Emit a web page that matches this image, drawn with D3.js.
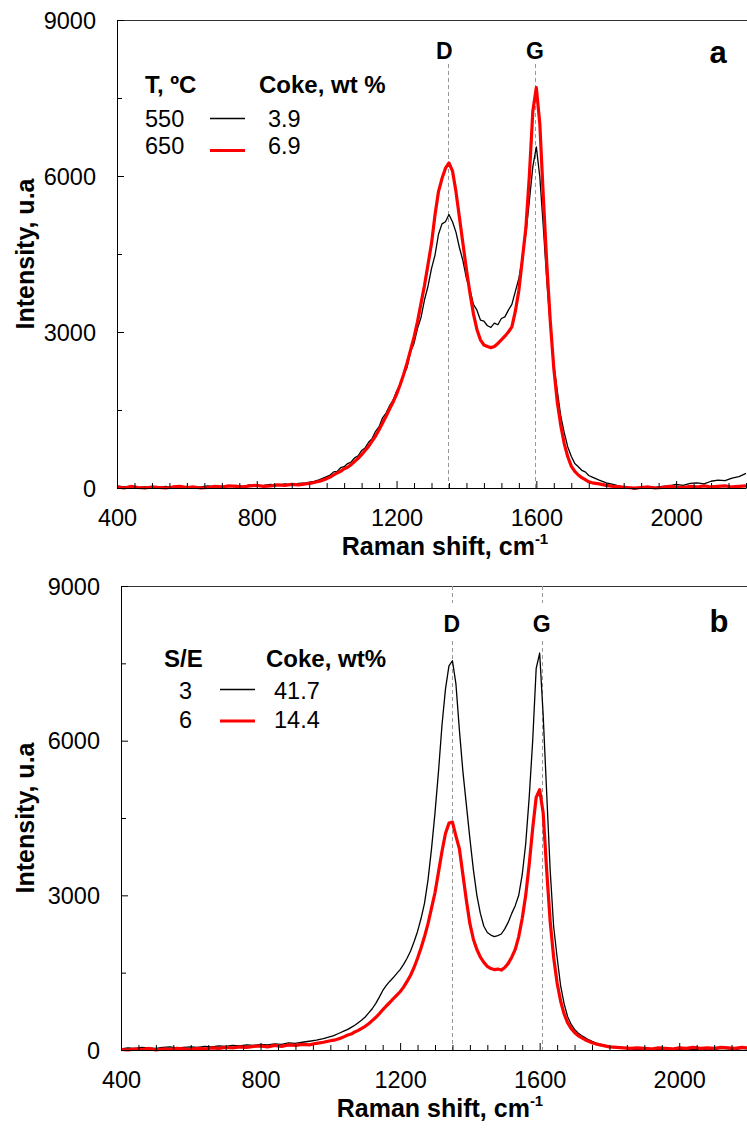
<!DOCTYPE html>
<html>
<head>
<meta charset="utf-8">
<script src="https://cdn.jsdelivr.net/npm/d3@7/dist/d3.min.js"></script>
<style>
  body { margin: 0; background: #fff; }
  svg { display: block; }
  text { font-family: "Liberation Sans", Arial, Helvetica, sans-serif; fill: #000; }
</style>
</head>
<body>
<svg id="chart" width="747" height="1137"></svg>
<script>
// Raman shift sampling (cm-1)
const shift = [
  400, 420, 440, 460, 480, 500, 520, 540, 560, 580, 600, 620, 640, 660, 680, 700,
  720, 740, 760, 780, 800, 820, 840, 860, 880, 900, 920, 940, 960, 980, 1000,
  1010, 1020, 1030, 1040, 1050, 1060, 1070, 1080, 1090, 1100,
  1110, 1120, 1130, 1140, 1150, 1160, 1170, 1180, 1190, 1200,
  1210, 1220, 1230, 1240, 1250, 1260, 1270, 1280, 1290, 1300,
  1310, 1320, 1330, 1340, 1350, 1360, 1370, 1380, 1390, 1400,
  1410, 1420, 1430, 1440, 1450, 1460, 1470, 1480, 1490, 1500,
  1510, 1520, 1530, 1540, 1550, 1560, 1570, 1580, 1590, 1600,
  1610, 1620, 1630, 1640, 1650, 1660, 1670, 1680, 1690, 1700,
  1710, 1720, 1730, 1740, 1750, 1760,
  1780, 1800, 1820, 1840, 1860, 1880, 1900, 1920, 1940, 1960, 1980,
  2000, 2020, 2040, 2060, 2080, 2100, 2120, 2140, 2160, 2180, 2200
];

// Panel a: T = 550 ºC (coke 3.9 wt %)
const intensityT550 = [
  40, 20, 30, 10, 20, 0, 10, 30, 0, 10, 30, 10, 20, 40, 20, 10,
  30, 50, 30, 60, 40, 50, 70, 50, 80, 60, 90, 100, 120, 160, 220,
  250, 310, 320, 390, 410, 470, 500, 580, 620, 720,
  770, 880, 950, 1090, 1180, 1350, 1440, 1580, 1690, 1860,
  1990, 2170, 2320, 2620, 2780, 3070, 3280, 3620, 3880, 4220,
  4480, 4880, 5080, 5120, 5260, 5120, 4920, 4620, 4370, 4030,
  3820, 3530, 3420, 3230, 3210, 3120, 3090, 3170, 3140, 3260,
  3290, 3420, 3530, 3780, 4030, 4420, 4880, 5520, 6180, 6560,
  5980, 5020, 3980, 3120, 2380, 1870, 1380, 1060, 790, 610,
  470, 410, 340, 310, 240, 210,
  150, 100, 70, 30, 10, -20, 0, 20, 10, 30, 40,
  70, 50, 90, 100, 80, 130, 150, 140, 190, 220, 280
];

// Panel a: T = 650 ºC (coke 6.9 wt %)
const intensityT650 = [
  20, 0, 30, 10, 0, 20, 10, 0, 20, 30, 10, 20, 0, 10, 30, 20,
  40, 30, 20, 40, 50, 30, 40, 60, 50, 70, 60, 80, 100, 130, 180,
  210, 250, 290, 320, 370, 400, 450, 510, 570, 640,
  720, 800, 900, 1000, 1120, 1250, 1380, 1520, 1650, 1800,
  1980, 2180, 2400, 2650, 2900, 3200, 3550, 3900, 4300, 4700,
  5250, 5700, 5950, 6150, 6250, 6100, 5700, 5200, 4700, 4200,
  3750, 3350, 3050, 2850, 2750, 2720, 2700, 2720, 2780, 2850,
  2920, 3000, 3100, 3400, 3800, 4400, 5000, 6000, 7250, 7700,
  7000, 5600, 4300, 3200, 2300, 1650, 1200, 850, 600, 420,
  320, 250, 200, 160, 120, 100,
  80, 50, 30, 20, 10, 0, 10, 20, 0, 10, 30,
  20, 10, 30, 20, 40, 20, 30, 40, 20, 30, 40
];

// Panel b: S/E = 3 (coke 41.7 wt%)
const intensitySE3 = [
  20, 40, 30, 50, 40, 30, 50, 60, 40, 50, 60, 50, 70, 60, 80, 70,
  90, 80, 100, 90, 110, 100, 120, 110, 140, 130, 150, 170, 190, 220, 260,
  280, 310, 340, 370, 400, 440, 480, 530, 580, 640,
  720, 800, 900, 1020, 1150, 1250, 1330, 1400, 1480, 1560,
  1660, 1780, 1920, 2100, 2300, 2550, 2850, 3300, 3900, 4600,
  5400, 6300, 7000, 7450, 7550, 7100, 6200, 5400, 4750, 4100,
  3500, 3000, 2650, 2400, 2280, 2230, 2200, 2220, 2250, 2350,
  2480, 2650, 2800, 3000, 3400, 4000, 4900, 6000, 7400, 7700,
  6500, 5000, 3500, 2400, 1800, 1250, 900, 650, 500, 400,
  330, 280, 240, 200, 170, 140,
  100, 70, 50, 30, 20, 10, 20, 0, 10, 20, 0,
  10, 20, 10, 0, 20, 10, 30, 20, 10, 30, 20
];

// Panel b: S/E = 6 (coke 14.4 wt%)
const intensitySE6 = [
  10, 0, 20, 10, 30, 0, 20, 10, 30, 20, 10, 30, 20, 40, 30, 50,
  40, 60, 50, 70, 80, 60, 90, 70, 100, 90, 110, 100, 130, 150, 180,
  190, 210, 230, 260, 290, 310, 350, 380, 420, 460,
  510, 570, 630, 700, 780, 850, 920, 990, 1060, 1130,
  1220, 1330, 1450, 1600, 1780, 1980, 2200, 2450, 2750, 3050,
  3450, 3850, 4200, 4400, 4420, 4150, 3900, 3400, 2900, 2450,
  2150, 1950, 1800, 1700, 1620, 1580, 1560, 1570, 1550, 1600,
  1680, 1800, 1950, 2200, 2550, 3000, 3600, 4300, 4900, 5050,
  4600, 3500, 2500, 1800, 1300, 950, 700, 530, 420, 340,
  280, 240, 200, 170, 140, 120,
  90, 60, 50, 40, 30, 40, 30, 20, 40, 30, 20,
  40, 30, 50, 30, 40, 30, 50, 40, 30, 50, 40
];

// Axis ticks
const xTickValues = [400, 800, 1200, 1600, 2000];
const xMinorStep = 50;
const yTickValues = [0, 3000, 6000, 9000];
const yMinorStep = 1500;

// Band positions (cm-1)
const bandNames = ["D", "G"];
const bandPosA = [1348, 1596];
const bandPosB = [1348, 1606];

// Legend contents
const legendA = { head: ["T, ºC", "Coke, wt %"], keys: ["550", "650"], coke: ["3.9", "6.9"] };
const legendB = { head: ["S/E", "Coke, wt%"], keys: ["3", "6"], coke: ["41.7", "14.4"] };

const svg = d3.select("#chart");

const lineStyles = [
  { color: "#000000", width: 1.3 },
  { color: "#ff0000", width: 3.2 }
];

const panels = [
  {
    letter: "a", left: 117, top: 20, bottom: 488, right: 746,
    series: [intensityT550, intensityT650],
    bands: bandPosA, bandLabelY: 59, bandLineTop: 64, letterX: 718,
    legend: legendA,
    leg: { headY: 93, headX: [145, 259], keyX: 145, keyAnchor: "start", rowY: [127, 154],
           swatch: [210, 245], swatchY: [118.5, 150.5], cokeX: 268 },
    xTitleX: 445, xTitleY: 555
  },
  {
    letter: "b", left: 121, top: 586, bottom: 1050, right: 749,
    series: [intensitySE3, intensitySE6],
    bands: bandPosB, bandLabelY: 632, bandLineTop: 586, bandGap: [603, 641], letterX: 719,
    legend: legendB,
    leg: { headY: 667, headX: [164, 266], keyX: 185.5, keyAnchor: "middle", rowY: [699, 728],
           swatch: [220, 255], swatchY: [689.5, 721], cokeX: 274 },
    xTitleX: 440, xTitleY: 1117
  }
];

panels.forEach(p => {
  const x = d3.scaleLinear().domain([400, 2200]).range([p.left, p.right]);
  const y = d3.scaleLinear().domain([0, 9000]).range([p.bottom, p.top]);
  const g = svg.append("g");

  // plot frame: top border
  g.append("line")
    .attr("x1", p.left).attr("x2", 747)
    .attr("y1", p.top + 0.5).attr("y2", p.top + 0.5)
    .attr("stroke", "#333").attr("stroke-width", 1);

  // band marker lines
  p.bands.forEach((b, i) => {
    const bx = Math.round(x(b)) + 0.5;
    if (p.bandGap) {
      g.append("line").attr("x1", bx).attr("x2", bx)
        .attr("y1", p.bandLineTop).attr("y2", p.bandGap[0])
        .attr("stroke", "#999").attr("stroke-dasharray", "4,3");
      g.append("line").attr("x1", bx).attr("x2", bx)
        .attr("y1", p.bandGap[1]).attr("y2", p.bottom)
        .attr("stroke", "#999").attr("stroke-dasharray", "4,3");
    } else {
      g.append("line").attr("x1", bx).attr("x2", bx)
        .attr("y1", p.bandLineTop).attr("y2", p.bottom)
        .attr("stroke", "#999").attr("stroke-dasharray", "4,3");
    }
    g.append("text").attr("x", x(b) - (p.letter === "a" && i === 0 ? 4 : 0)).attr("y", p.bandLabelY)
      .attr("text-anchor", "middle").attr("font-weight", "bold").attr("font-size", 23)
      .text(bandNames[i]);
  });

  // spectra
  const line = d3.line()
    .x((d, i) => x(shift[i]))
    .y(d => y(d));
  p.series.forEach((vals, k) => {
    g.append("path").datum(vals)
      .attr("d", line)
      .attr("fill", "none")
      .attr("stroke", lineStyles[k].color)
      .attr("stroke-width", lineStyles[k].width)
      .attr("stroke-linejoin", "round");
  });

  // x axis with inward ticks
  const minorX = d3.range(400, 2201, xMinorStep).filter(v => !xTickValues.includes(v));
  g.append("g").attr("transform", `translate(0,${p.bottom})`)
    .call(d3.axisTop(x).tickValues(minorX).tickSize(5).tickFormat(""))
    .call(s => s.select(".domain").remove())
    .selectAll("line").attr("stroke", "#000");
  const xAxis = g.append("g").attr("transform", `translate(0,${p.bottom})`)
    .call(d3.axisTop(x).tickValues(xTickValues).tickSize(7).tickSizeOuter(0).tickFormat(d3.format("d")));
  xAxis.select(".domain").attr("stroke", "#000");
  xAxis.selectAll(".tick line").attr("stroke", "#000");
  xAxis.selectAll(".tick text")
    .attr("y", 38).attr("dy", 0)
    .attr("font-size", 23.5)
    .style("font-family", '"Liberation Sans", Arial, sans-serif');

  // y axis with inward ticks
  const minorY = d3.range(0, 9001, yMinorStep).filter(v => !yTickValues.includes(v));
  g.append("g").attr("transform", `translate(${p.left},0)`)
    .call(d3.axisRight(y).tickValues(minorY).tickSize(5).tickFormat(""))
    .call(s => s.select(".domain").remove())
    .selectAll("line").attr("stroke", "#000");
  const yAxis = g.append("g").attr("transform", `translate(${p.left},0)`)
    .call(d3.axisRight(y).tickValues(yTickValues).tickSize(7).tickSizeOuter(0).tickFormat(d3.format("d")));
  yAxis.select(".domain").attr("stroke", "#000");
  yAxis.selectAll(".tick line").attr("stroke", "#000");
  yAxis.selectAll(".tick text")
    .attr("x", -21).attr("text-anchor", "end").attr("dy", "0.35em")
    .attr("font-size", 23.5)
    .style("font-family", '"Liberation Sans", Arial, sans-serif');

  // axis titles
  g.append("text")
    .attr("transform", `translate(34,${(p.top + p.bottom) / 2}) rotate(-90)`)
    .attr("text-anchor", "middle").attr("font-weight", "bold").attr("font-size", 25)
    .text("Intensity, u.a");
  const xt = g.append("text")
    .attr("x", p.xTitleX).attr("y", p.xTitleY)
    .attr("text-anchor", "middle").attr("font-weight", "bold").attr("font-size", 25);
  xt.append("tspan").text("Raman shift, cm");
  xt.append("tspan").attr("font-size", 15).attr("dy", -11).text("-1");

  // panel letter
  g.append("text").attr("x", p.letterX).attr("y", p.bandLabelY + (p.letter === "a" ? 4 : 0))
    .attr("text-anchor", "middle").attr("font-weight", "bold").attr("font-size", 31)
    .text(p.letter);

  // legend
  const L = p.leg;
  p.legend.head.forEach((h, i) => {
    g.append("text").attr("x", L.headX[i]).attr("y", L.headY)
      .attr("font-weight", "bold").attr("font-size", 24).text(h);
  });
  p.legend.keys.forEach((k, i) => {
    g.append("text").attr("x", L.keyX).attr("y", L.rowY[i])
      .attr("text-anchor", L.keyAnchor).attr("font-size", 23.5).text(k);
    g.append("line").attr("x1", L.swatch[0]).attr("x2", L.swatch[1])
      .attr("y1", L.swatchY[i]).attr("y2", L.swatchY[i])
      .attr("stroke", lineStyles[i].color).attr("stroke-width", lineStyles[i].width);
    g.append("text").attr("x", L.cokeX).attr("y", L.rowY[i])
      .attr("font-size", 23.5).text(p.legend.coke[i]);
  });
});
</script>
</body>
</html>
